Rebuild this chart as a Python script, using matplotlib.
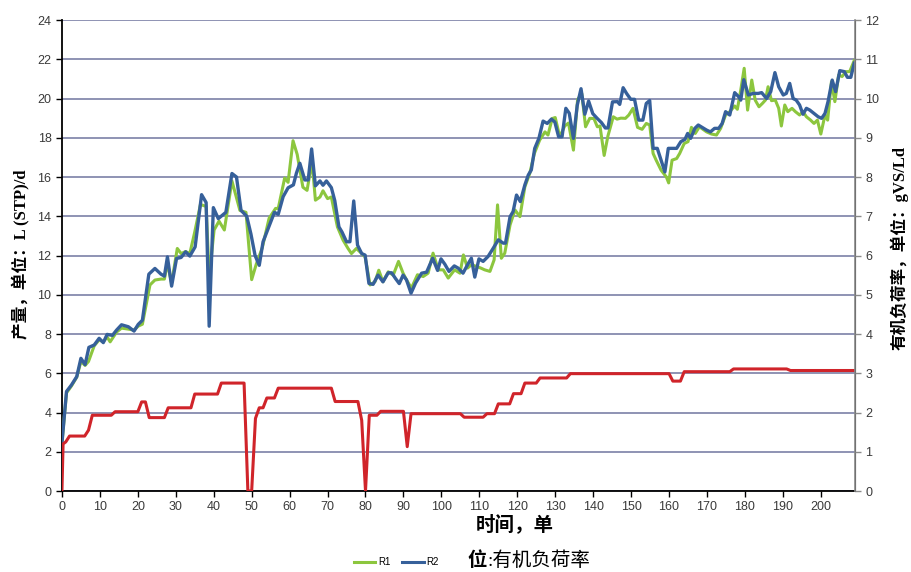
import matplotlib
matplotlib.use("Agg")
import matplotlib.pyplot as plt
from matplotlib.lines import Line2D

# R1 产量, day / L(STP)/d
r1_day = [0, 1.2, 2.5, 3.9, 5, 6.1, 7, 8.5, 9.8, 10.9, 11.9, 12.7, 14.4, 15.7, 17.5, 19, 20.1, 21.2,
          23.2, 24.5, 26.1, 27, 27.8, 28.9, 30.4, 31.4, 32.6, 33.7, 35, 36.5, 38, 38.8, 40.1, 41.4,
          42.8, 44.8, 46.9, 48.5, 50, 51.2, 52.8, 54.6, 56.3, 57, 58.7, 59.6, 60.9, 62, 63.5, 64.6,
          65.9, 66.8, 68, 68.8, 70, 71, 72.6, 74.1, 75.4, 76.3, 77.6, 79, 79.9, 81.2, 82.5, 83.5,
          84.6, 86, 87.3, 88.7, 89.9, 90.8, 92.1, 93.7, 95.2, 96.5, 97.8, 99.2, 100.5, 101.8, 103.5,
          104.9, 105.8, 106.9, 107.9, 109.3, 110.4, 111.4, 112.8, 113.9, 114.8, 115.8, 116.7, 118.1,
          119.4, 120.7, 122, 123.3, 124.5, 125.9, 127.3, 128.1, 129.2, 130, 131.2, 132.5, 133.5,
          134.8, 135.9, 137, 138, 139.1, 140.2, 141.1, 141.8, 142.9, 143.9, 145.3, 146.3, 147.3,
          148.5, 149.4, 150.5, 151.7, 152.9, 154, 154.9, 155.8, 156.6, 157.9, 159.3, 159.9, 160.8,
          162, 162.8, 164, 165, 165.9, 166.9, 168, 169.9, 171.2, 172.5, 173.6, 174.9, 176, 177.3,
          178, 178.9, 179.8, 180.7, 181.8, 182.7, 183.7, 184.6, 185.4, 186.1, 187, 188, 188.9,
          189.6, 190.5, 191.3, 192.4, 193.3, 194.4, 195.3, 196.2, 197.3, 198.2, 199.1, 200, 201.1,
          201.8, 202.8, 203.7, 204.7, 205.6, 206.6, 207.6, 208.8]
r1_val = [2.45, 5.0, 5.35, 5.8, 6.6, 6.4, 6.6, 7.4, 7.7, 7.6, 7.85, 7.6, 8.1, 8.3, 8.25, 8.2, 8.4, 8.5,
          10.5, 10.75, 10.8, 10.8, 11.6, 10.6, 12.36, 12.1, 12.2, 12.1, 13.2, 14.6, 14.5, 10.9, 13.3,
          13.75, 13.3, 15.8, 14.3, 14.2, 10.77, 11.55, 12.4, 13.9, 14.4, 14.4, 15.95, 15.73, 17.85,
          17.15, 15.48, 15.32, 16.8, 14.82, 14.98, 15.3, 14.9, 14.98, 13.46, 12.78, 12.36, 12.1,
          12.36, 12.1, 11.93, 10.5, 10.66, 11.25, 10.66, 11.17, 11.0, 11.7, 11.1, 10.76, 10.34,
          11.02, 10.93, 11.1, 12.12, 11.27, 11.27, 10.85, 11.27, 11.1, 12.03, 11.36, 11.53, 11.44,
          11.36, 11.27, 11.19, 11.78, 14.58, 11.86, 12.12, 13.56, 14.32, 13.98, 15.5, 16.19, 17.2,
          17.88, 18.3, 18.14, 18.98, 19.03, 18.05, 18.6, 18.75, 17.37, 19.95, 20.25, 18.56, 18.99,
          18.98, 18.56, 18.6, 17.1, 18.1, 19.07, 18.95, 19.0, 18.99, 19.16, 19.5, 18.53, 18.43,
          18.73, 18.65, 17.2, 16.86, 16.35, 16.0, 15.7, 16.86, 16.94, 17.2, 17.71, 17.8, 18.53,
          18.22, 18.56, 18.3, 18.19, 18.14, 18.48, 19.16, 19.33, 19.62, 19.45, 20.43, 21.54, 19.41,
          20.94, 19.92, 19.58, 19.75, 19.92, 20.6, 19.89, 19.92, 19.5, 18.6, 19.67, 19.33, 19.5,
          19.33, 19.16, 19.33, 19.07, 18.9, 18.73, 18.9, 18.19, 19.16, 18.9, 20.86, 19.84, 21.2,
          21.12, 21.37, 21.37, 21.93]

# R2 产量
r2_day = [0, 1.2, 2.5, 3.9, 5, 6.1, 7.1, 8.5, 9.8, 10.9, 11.9, 13.3, 14.4, 15.7, 17.5, 19, 20.1, 21.2,
          22.9, 24.5, 26.1, 27, 27.8, 28.9, 30.2, 31.4, 32.6, 33.7, 35.1, 36.8, 38, 38.8, 39.9, 41.2,
          43.2, 44.8, 46, 47.2, 48.7, 49.8, 50.9, 52, 53, 54.8, 56, 57, 58.3, 59.6, 61, 61.8, 62.7,
          64, 64.9, 65.8, 66.8, 68, 68.8, 69.7, 71, 71.9, 73, 73.8, 75, 75.9, 76.9, 77.9, 79, 79.9,
          80.9, 82, 83.3, 84.6, 86, 86.9, 87.9, 88.9, 89.9, 90.8, 92, 93.2, 94.8, 96.1, 97.7, 99,
          99.9, 100.9, 102, 103.4, 104.4, 105.7, 106.9, 107.9, 108.8, 109.9, 111, 112.3, 113.5, 115,
          116.3, 116.9, 118.1, 118.9, 119.8, 120.8, 122, 122.9, 123.7, 124.6, 125.7, 126.8, 127.9,
          129, 129.9, 130.9, 131.8, 132.8, 133.7, 134.8, 135.8, 136.8, 137.8, 138.8, 139.9, 141,
          142.2, 143.2, 143.9, 145.1, 146.4, 147, 147.9, 148.8, 149.9, 150.9, 152, 153.1, 154, 154.9,
          155.8, 156.9, 157.9, 158.9, 159.8, 160.8, 162, 163.1, 164.2, 164.9, 165.7, 166.8, 167.7,
          168.7, 169.9, 170.9, 172, 173.1, 174, 174.9, 176, 177.3, 178.3, 178.9, 179.7, 180.9,
          182.2, 183.5, 184.4, 185.7, 186.8, 187.9, 188.9, 190.1, 190.9, 191.8, 192.7, 193.5, 194.4,
          195.3, 196.2, 197.1, 198.2, 199.3, 200.2, 201.1, 201.9, 203, 203.9, 205, 206.2, 207,
          207.9, 208.8]
r2_val = [2.45, 5.07, 5.4, 5.83, 6.76, 6.44, 7.32, 7.44, 7.78, 7.56, 7.98, 7.93, 8.2, 8.47, 8.37, 8.15,
          8.49, 8.7, 11.05, 11.34, 11.05, 10.95, 11.93, 10.44, 11.85, 11.9, 12.19, 11.97, 12.44, 15.1,
          14.7, 8.4, 14.44, 13.88, 14.2, 16.18, 16.0, 14.3, 14.0, 13.1, 12.0, 11.5, 12.7, 13.6, 14.2,
          14.1, 15.0, 15.45, 15.6, 16.2, 16.7, 15.85, 15.85, 17.43, 15.55, 15.8, 15.58, 15.8, 15.46,
          14.8, 13.46, 13.2, 12.7, 12.7, 14.78, 12.53, 12.1, 12.02, 10.58, 10.53, 11.0, 10.66, 11.12,
          11.12, 10.83, 10.57, 11.0, 10.76, 10.08, 10.6, 11.1, 11.15, 11.86, 11.24, 11.83, 11.56,
          11.19, 11.47, 11.36, 11.1, 11.53, 11.86, 10.9, 11.83, 11.7, 11.95, 12.32, 12.8, 12.63,
          12.63, 13.98, 14.24, 15.08, 14.75, 15.6, 16.1, 16.36, 17.46, 17.97, 18.85, 18.73, 18.95,
          18.8, 18.05, 18.05, 19.5, 19.25, 17.97, 19.65, 20.5, 19.2, 19.87, 19.23, 19.0, 18.77, 18.5,
          18.5, 19.83, 19.84, 19.7, 20.55, 20.26, 19.96, 19.96, 18.9, 18.9, 19.75, 19.9, 17.46,
          17.46, 16.86, 16.26, 17.46, 17.46, 17.46, 17.8, 17.92, 18.22, 17.97, 18.48, 18.65, 18.53,
          18.39, 18.3, 18.48, 18.48, 18.73, 19.33, 19.16, 20.3, 20.1, 19.92, 20.96, 20.18, 20.26,
          20.26, 20.3, 20.0, 20.35, 21.32, 20.6, 20.18, 20.26, 20.77, 20.0, 19.92, 19.67, 19.2,
          19.5, 19.41, 19.24, 19.07, 18.99, 19.24, 19.84, 20.94, 20.35, 21.42, 21.37, 21.08, 21.08,
          21.8]

# 有机负荷率, gVS/Ld (right axis)
olr_day = [0, 0.3, 1, 2, 6, 7, 8, 13, 14, 20, 21, 22, 23, 27, 28, 34, 35, 41, 42, 48, 49, 50, 51, 52,
           53, 54, 56, 57, 71, 72, 78, 79, 80, 81, 83, 84, 90, 91, 92, 105, 106, 111, 112, 114, 115,
           118, 119, 121, 122, 125, 126, 133, 134, 160, 161, 163, 164, 176, 177, 191, 192, 209]
olr_val = [0, 1.2, 1.25, 1.4, 1.4, 1.55, 1.93, 1.93, 2.02, 2.02, 2.27, 2.27, 1.87, 1.87, 2.12, 2.12,
           2.47, 2.47, 2.75, 2.75, 0, 0, 1.85, 2.12, 2.12, 2.37, 2.37, 2.62, 2.62, 2.28, 2.28, 1.8, 0,
           1.93, 1.93, 2.03, 2.03, 1.13, 1.97, 1.97, 1.88, 1.88, 1.97, 1.97, 2.22, 2.22, 2.48, 2.48,
           2.75, 2.75, 2.88, 2.88, 2.99, 2.99, 2.8, 2.8, 3.04, 3.04, 3.11, 3.11, 3.07, 3.07]

green = "#8cc63e"
blue = "#36609a"
red = "#d0242a"
cjk = ["Liberation Serif", "Noto Sans CJK SC"]

fig = plt.figure(figsize=(9.11, 5.72), dpi=100)
ax = fig.add_axes([0.068, 0.1416, 0.8705, 0.8234])
ax2 = ax.twinx()

ax.plot(r1_day, r1_val, color=green, lw=2.2, zorder=3)
ax.plot(r2_day, r2_val, color=blue, lw=2.4, zorder=4)
ax2.plot(olr_day, olr_val, color=red, lw=2.2)

ax.set_xlim(0, 209)
ax.set_ylim(0, 24)
ax2.set_ylim(0, 12)
ax.set_xticks(range(0, 201, 10))
ax.set_yticks(range(0, 25, 2))
ax2.set_yticks(range(0, 13, 1))

ax.grid(axis="y", color="#8e93b3", lw=1.4)
ax.set_axisbelow(True)

for a in (ax, ax2):
    a.spines["top"].set_visible(False)
ax.spines["left"].set_color("black")
ax.spines["left"].set_linewidth(1.3)
ax.spines["bottom"].set_color("black")
ax.spines["bottom"].set_linewidth(1.3)
ax2.spines["right"].set_color("#8a8a8a")
ax2.spines["right"].set_linewidth(1.2)
ax2.spines["left"].set_visible(False)
ax2.spines["bottom"].set_visible(False)

ax.tick_params(axis="both", labelsize=9, labelcolor="#3a3a3a", length=4, width=1)
ax2.tick_params(axis="y", labelsize=9, length=4, width=1, colors="#8a8a8a")
ax2.tick_params(axis="y", labelcolor="#3a3a3a")
for lab in ax.get_xticklabels() + ax.get_yticklabels() + ax2.get_yticklabels():
    lab.set_family("Liberation Sans")

fig.text(0.024, 0.556, "产量，单位：L (STP)/d", rotation=90, ha="center", va="center",
         fontsize=12, fontweight="bold", family=cjk)
fig.text(0.987, 0.566, "有机负荷率，单位：gVS/Ld", rotation=90, ha="center", va="center",
         fontsize=12, fontweight="bold", family=cjk)
fig.text(0.565, 0.083, "时间，单", ha="center", va="center", fontsize=14,
         fontweight="bold", family=cjk)
fig.text(0.524, 0.02, "位", ha="center", va="center", fontsize=14, fontweight="bold", family=cjk)
fig.text(0.535, 0.02, ":有机负荷率", ha="left", va="center", fontsize=14, family=cjk)

handles = [Line2D([], [], color=green, lw=2.2), Line2D([], [], color=blue, lw=2.2)]
fig.legend(handles, ["R1", "R2"], loc="center", bbox_to_anchor=(0.435, 0.017), ncol=2,
           frameon=False, handlelength=2.2, columnspacing=1.2, handletextpad=0.3,
           prop={"family": "Liberation Sans", "size": 7})

fig.savefig("out.png", dpi=100)
